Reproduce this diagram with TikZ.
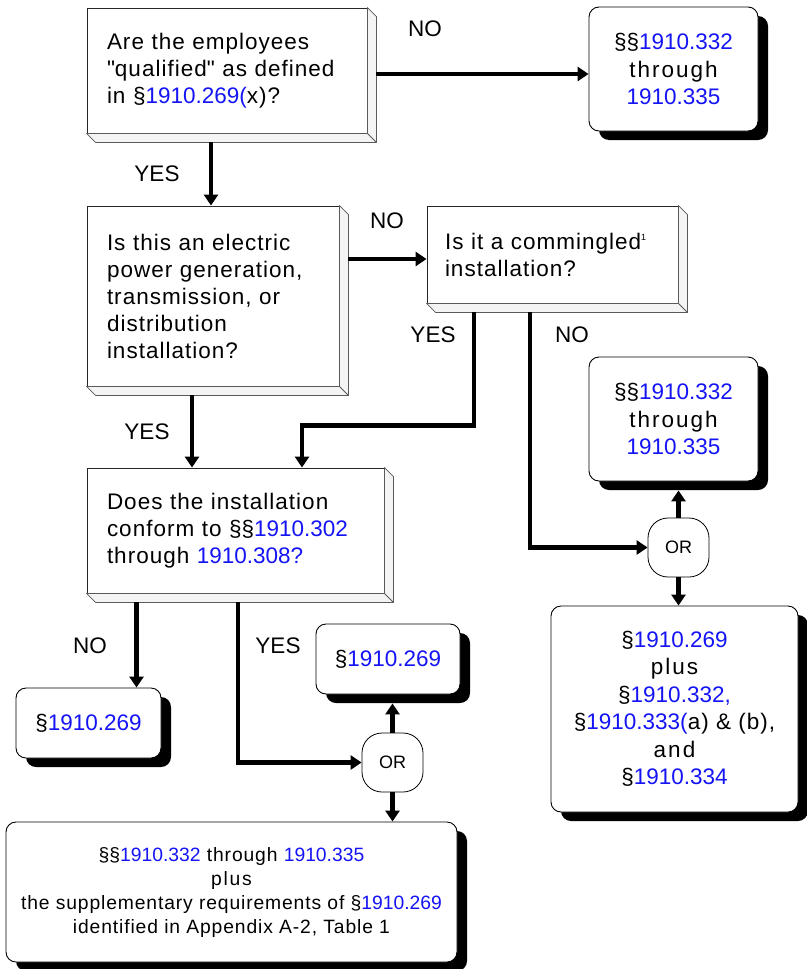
\documentclass[tikz,border=0pt]{standalone}
\usepackage{fontspec}
\setmainfont{Liberation Sans}[LetterSpace=4.5]
\newfontfamily\plainsf{Liberation Sans}
\font\qmarkfont="Liberation Sans" at 22.5pt
\usepackage{tikz}
\usetikzlibrary{arrows.meta, positioning, calc, shadows}
\definecolor{refblue}{RGB}{20,20,245}
\definecolor{bevelgray}{RGB}{244,244,244}
\newcommand{\secnum}[2]{{\plainsf #1\textcolor{refblue}{#2}}}
\newcommand{\fnmark}[1]{\raisebox{9pt}{\fontsize{9}{9}\selectfont #1}}
\newcommand{\widesp}[1]{{\addfontfeature{LetterSpace=9}#1}}
\newcommand{\qmark}{{\qmarkfont\char34}}
\tikzset{
  qbox/.style={rectangle,draw=black!85,fill=white,line width=0.9pt,inner xsep=20pt,inner ysep=0pt,
    align=left,font=\fontsize{22.5}{27}\selectfont},
  bevel/.style={draw=black!65,fill=bevelgray,line width=0.8pt,line join=round},
  rbox/.style={rectangle,draw=black,fill=white,line width=0.9pt,rounded corners=10pt,inner sep=0pt,
    align=center,font=\fontsize{22.5}{27.5}\selectfont,
    drop shadow={shadow xshift=10pt,shadow yshift=-9pt,fill=black,opacity=1}},
  orbox/.style={rectangle,draw=black,fill=white,line width=0.8pt,rounded corners=20pt,
    minimum width=61pt,minimum height=59pt,inner sep=0pt,font=\plainsf\fontsize{18}{20}\selectfont},
  arrow/.style={-{Triangle[length=11pt,width=14pt]},line width=4.6pt,color=black},
  lbl/.style={font=\plainsf\fontsize{22.5}{27}\selectfont,inner sep=0pt}
}
\begin{document}
\begin{tikzpicture}[x=1pt,y=-1pt]
  \useasboundingbox (0,0) rectangle (806,969);

  % ── Question boxes ─────────────────────────────────────────────────────────
  \node[qbox,text width=240pt,minimum height=125pt] (q1) at (227,70.5)
    {Are the employees\\\qmark qualified\qmark{} as defined\\in \secnum{§}{1910.269(}x)?};
  \node[qbox,text width=212pt,minimum height=180pt] (q2) at (213,296)
    {Is this an electric\\power generation,\\transmission, or\\distribution\\installation?};
  \node[qbox,inner xsep=18pt,text width=215pt,minimum height=97pt] (q3) at (552.5,254.5)
    {Is it a commingled\fnmark{1}\\installation?};
  \node[qbox,text width=257pt,minimum height=125pt] (q4) at (235.5,530.5)
    {Does the installation\\conform to \secnum{§§}{1910.302}\\through \secnum{}{1910.308?}};

  % bevelled sides
  \foreach \b in {q1,q2,q3,q4}{
    \filldraw[bevel] (\b.north east) -- ++(9,9) -- ($(\b.south east)+(9,9)$)
      -- ($(\b.south west)+(9,9)$) -- (\b.south west) -- (\b.south east) -- cycle;
    \draw[bevel] (\b.south east) -- ++(9,9);
  }

  % ── Result boxes ───────────────────────────────────────────────────────────
  \node[rbox,minimum width=169pt,minimum height=124pt] (r1) at (673.5,69)
    {\secnum{§§}{1910.332}\\\widesp{through}\\\secnum{}{1910.335}};
  \node[rbox,minimum width=169pt,minimum height=124pt] (r2) at (673.5,419)
    {\secnum{§§}{1910.332}\\\widesp{through}\\\secnum{}{1910.335}};
  \node[rbox,minimum width=247pt,minimum height=206pt] (r3) at (674.5,709)
    {\secnum{§}{1910.269}\\\widesp{plus}\\\secnum{§}{1910.332,}\\\secnum{§}{1910.333(}a) \& (b),\\\widesp{and}\\\secnum{§}{1910.334}};
  \node[rbox,minimum width=145pt,minimum height=70pt] (r4) at (88.5,723) {\secnum{§}{1910.269}};
  \node[rbox,minimum width=144pt,minimum height=70pt] (r5) at (388,659) {\secnum{§}{1910.269}};
  \node[rbox,minimum width=451pt,minimum height=140pt,font=\fontsize{19.3}{24}\selectfont] (r6) at (231.5,892)
    {\secnum{§§}{1910.332} through \secnum{}{1910.335}\\\widesp{plus}\\the supplementary requirements of \secnum{§}{1910.269}\\identified in Appendix A-2, Table 1};

  \node[orbox] (or1) at (678.5,547.5) {OR};
  \node[orbox] (or2) at (392.5,762.5) {OR};

  % ── Connectors ─────────────────────────────────────────────────────────────
  \draw[arrow] ($(q1.east)+(9,3.5)$) -- ($(q1.east -| r1.west)+(0,3.5)$);
  \draw[arrow] ($(q1.south)+(-16,9)$) -- ($(q2.north)+(-2,0)$);
  \draw[arrow] ($(q3.west -| q2.east)+(9,4.5)$) -- ($(q3.west)+(0,4.5)$);
  \draw[arrow] ($(q2.south)+(-21,9)$) -- ($(q4.north)+(-43.5,0)$);
  \draw[arrow] ($(q3.south)+(-78.5,9)$) -- ++(0,113) -| ($(q4.north)+(66.5,0)$);
  \draw[arrow] ($(q3.south)+(-22.5,9)$) |- (or1.west);
  \draw[arrow] (or1.north) -- ($(or1.north |- r2.south)+(0,9)$);
  \draw[arrow] (or1.south) -- (or1.south |- r3.north);
  \draw[arrow] ($(q4.south)+(-99,9)$) -- ($(r4.north)+(48,0)$);
  \draw[arrow] ($(q4.south)+(2.5,9)$) |- (or2.west);
  \draw[arrow] (or2.north) -- ($(or2.north |- r5.south)+(0,9)$);
  \draw[arrow] (or2.south) -- (or2.south |- r6.north);

  % ── Branch labels ──────────────────────────────────────────────────────────
  \node[lbl] (no1)  at (425,29)  {NO};
  \node[lbl] (yes1) at (157,174) {YES};
  \node[lbl] (no2)  at (387,221) {NO};
  \node[lbl] (yes2) at (147,432) {YES};
  \node[lbl] (yes3) at (433,335) {YES};
  \node[lbl] (no3)  at (572,335) {NO};
  \node[lbl] (no4)  at (90,646)  {NO};
  \node[lbl] (yes4) at (278,646) {YES};
\end{tikzpicture}
\end{document}
